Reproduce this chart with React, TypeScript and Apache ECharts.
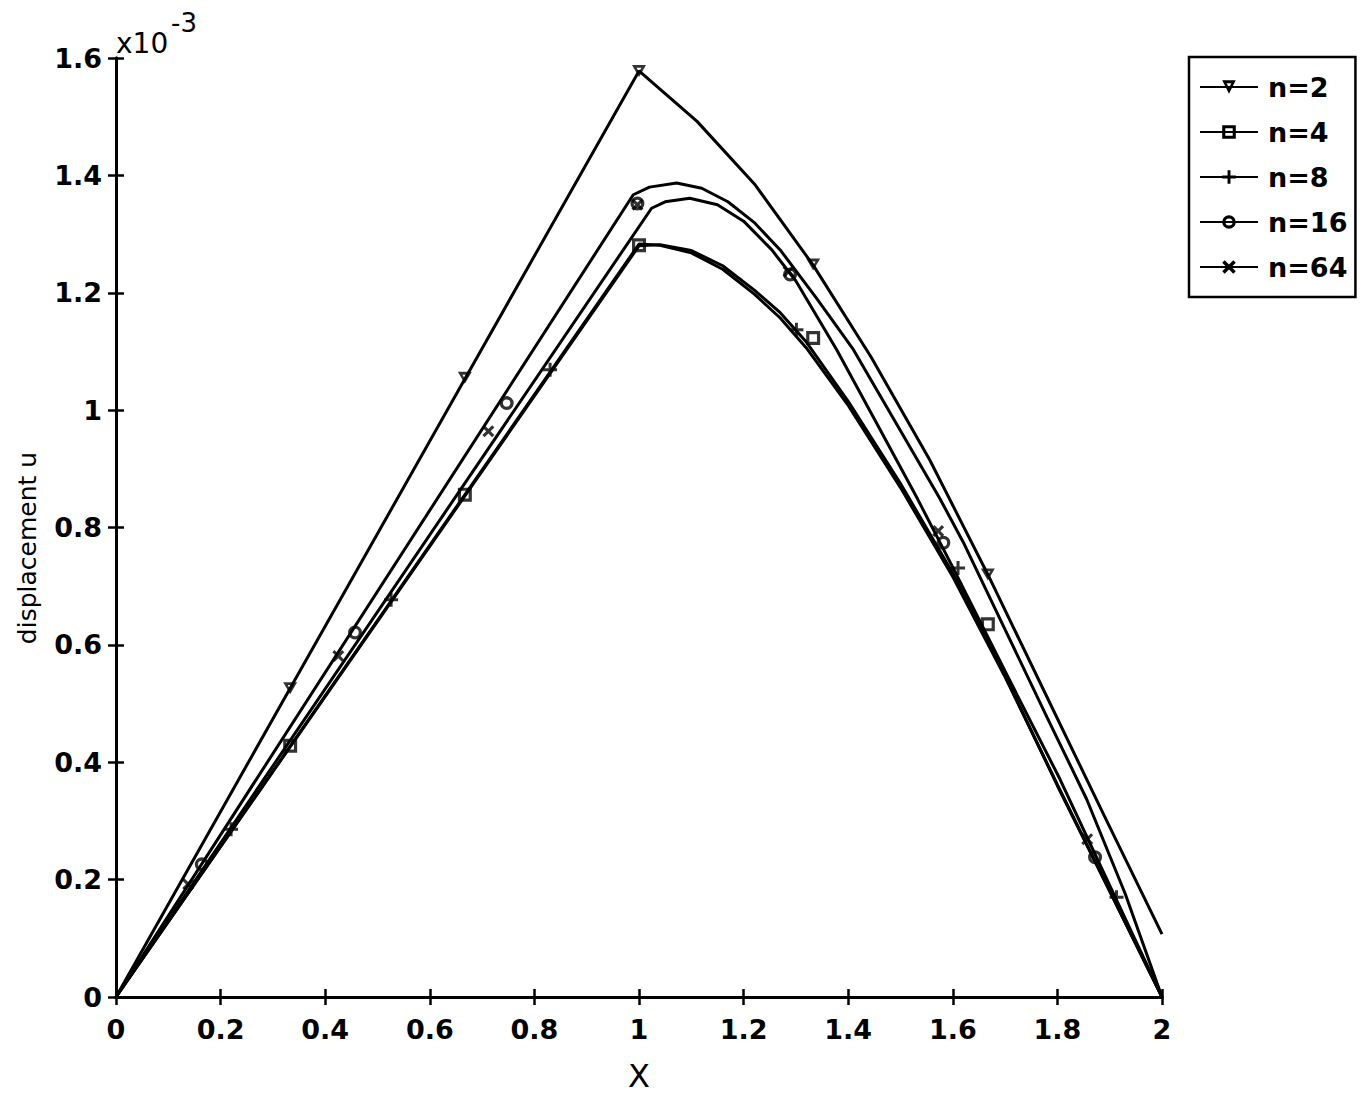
import React, { useEffect, useRef } from "react";
import * as echarts from "echarts";

// ---- data (displacement in units of 1e-3) ----
const seriesNames = ["n=2", "n=4", "n=8", "n=16", "n=64"];

const n2LineX = [0, 0.333, 0.667, 1, 1.111, 1.222, 1.333, 1.444, 1.556, 1.667, 1.778, 1.889, 2];
const n2LineY = [0, 0.526, 1.053, 1.578, 1.492, 1.384, 1.247, 1.09, 0.915, 0.72, 0.515, 0.31, 0.107];
const n2MarkX = [0.333, 0.667, 1, 1.333, 1.667];
const n2MarkY = [0.526, 1.055, 1.578, 1.248, 0.72];

const n4LineX = [0, 1, 1.04, 1.1, 1.16, 1.22, 1.27, 1.32, 1.4, 1.5, 1.6, 1.7, 1.8, 1.9, 2];
const n4LineY = [0, 1.28, 1.282, 1.272, 1.246, 1.205, 1.166, 1.116, 1.015, 0.875, 0.722, 0.548, 0.36, 0.18, 0];
const n4MarkX = [0.333, 0.667, 1, 1.333, 1.667];
const n4MarkY = [0.428, 0.856, 1.281, 1.123, 0.635];

const n8LineX = [0, 1, 1.04, 1.1, 1.16, 1.22, 1.27, 1.32, 1.4, 1.5, 1.6, 1.7, 1.8, 1.9, 2];
const n8LineY = [0, 1.283, 1.281, 1.268, 1.24, 1.198, 1.157, 1.106, 1.008, 0.868, 0.716, 0.545, 0.362, 0.181, 0];
const n8MarkX = [0.22, 0.526, 0.83, 1.301, 1.61, 1.913];
const n8MarkY = [0.286, 0.677, 1.069, 1.137, 0.731, 0.17];

const n16LineX = [0, 0.989, 1.02, 1.072, 1.12, 1.17, 1.22, 1.27, 1.34, 1.41, 1.5, 1.576, 1.62, 1.7, 1.78, 1.856, 1.93, 2];
const n16LineY = [0, 1.367, 1.38, 1.387, 1.378, 1.355, 1.32, 1.273, 1.19, 1.103, 0.965, 0.848, 0.775, 0.626, 0.477, 0.337, 0.175, 0];
const n16MarkX = [0.164, 0.457, 0.747, 0.997, 1.289, 1.582, 1.872];
const n16MarkY = [0.226, 0.621, 1.012, 1.352, 1.231, 0.774, 0.238];

const n64LineX = [0, 1.024, 1.05, 1.097, 1.15, 1.2, 1.254, 1.3, 1.378, 1.45, 1.533, 1.6, 1.7, 1.805, 1.9, 2];
const n64LineY = [0, 1.344, 1.355, 1.361, 1.35, 1.322, 1.273, 1.22, 1.103, 0.985, 0.848, 0.732, 0.555, 0.371, 0.19, 0];
const n64MarkX = [0.138, 0.425, 0.712, 0.997, 1.286, 1.572, 1.857];
const n64MarkY = [0.192, 0.581, 0.964, 1.35, 1.236, 0.794, 0.269];

// ---- styling ----
const FONT = "'DejaVu Sans', Verdana, sans-serif";
const SYM_TRI = "path://M0,0 L14,0 L7,12 Z M4.6,2.8 L7,6.9 L9.4,2.8 Z";
const SYM_SQ = "path://M0,0 H14 V14 H0 Z M3.2,3.2 V10.8 H10.8 V3.2 Z";
const SYM_PLUS = "path://M5.5,0 H8.5 V5.5 H14 V8.5 H8.5 V14 H5.5 V8.5 H0 V5.5 H5.5 Z";
const SYM_CIRC =
  "path://M0,7 A7 7 0 1 1 14 7 A7 7 0 1 1 0 7 Z M3.3,7 A3.7 3.7 0 1 0 10.7 7 A3.7 3.7 0 1 0 3.3 7 Z";
const SYM_X =
  "path://M0,2.2 L2.2,0 L6,3.8 L9.8,0 L12,2.2 L8.2,6 L12,9.8 L9.8,12 L6,8.2 L2.2,12 L0,9.8 L3.8,6 Z";

const zip = (xs: number[], ys: number[]) => xs.map((x, i) => [x, ys[i]]);

const defs = [
  { name: seriesNames[0], lx: n2LineX, ly: n2LineY, mx: n2MarkX, my: n2MarkY, symbol: SYM_TRI, size: [14, 12] },
  { name: seriesNames[1], lx: n4LineX, ly: n4LineY, mx: n4MarkX, my: n4MarkY, symbol: SYM_SQ, size: 14 },
  { name: seriesNames[2], lx: n8LineX, ly: n8LineY, mx: n8MarkX, my: n8MarkY, symbol: SYM_PLUS, size: 14 },
  { name: seriesNames[3], lx: n16LineX, ly: n16LineY, mx: n16MarkX, my: n16MarkY, symbol: SYM_CIRC, size: 14 },
  { name: seriesNames[4], lx: n64LineX, ly: n64LineY, mx: n64MarkX, my: n64MarkY, symbol: SYM_X, size: 12 },
];

export default function App() {
  const ref = useRef<HTMLDivElement>(null);
  useEffect(() => {
    const chart = echarts.init(ref.current!, null, { renderer: "svg" });
    const axisLine = { show: true, lineStyle: { color: "#000", width: 3 } };
    const axisTick = { show: true, inside: true, length: 8, lineStyle: { color: "#000", width: 2.5 } };
    const label = { color: "#000", fontSize: 27, fontWeight: "bold", fontFamily: FONT };

    const lineSeries = defs.map((d) => ({
      name: d.name,
      type: "line",
      data: zip(d.lx, d.ly),
      symbol: d.symbol,
      symbolSize: d.size,
      showSymbol: false,
      smooth: false,
      lineStyle: { color: "#000", width: 3 },
      itemStyle: { color: "#000" },
      emphasis: { disabled: true },
      z: 2,
    }));
    const markSeries = defs.map((d) => ({
      name: d.name,
      type: "scatter",
      data: zip(d.mx, d.my),
      symbol: d.symbol,
      symbolSize: d.size,
      itemStyle: { color: "#000" },
      emphasis: { disabled: true },
      z: 3,
    }));

    chart.setOption({
      animation: false,
      backgroundColor: "#fff",
      grid: { left: 116, right: 198, top: 58, bottom: 99 },
      xAxis: [
        {
          type: "value",
          min: 0,
          max: 2,
          interval: 0.2,
          position: "bottom",
          axisLine,
          axisTick,
          splitLine: { show: false },
          axisLabel: { ...label, margin: 19 },
          name: "X",
          nameLocation: "middle",
          nameGap: 63,
          nameTextStyle: { color: "#000", fontSize: 32, fontFamily: FONT },
        },
        {
          type: "value",
          min: 0,
          max: 2,
          interval: 0.2,
          position: "top",
          axisLine,
          axisTick,
          splitLine: { show: false },
          axisLabel: { show: false },
        },
      ],
      yAxis: [
        {
          type: "value",
          min: 0,
          max: 1.6,
          interval: 0.2,
          position: "left",
          axisLine,
          axisTick,
          splitLine: { show: false },
          axisLabel: { ...label, margin: 14 },
        },
        {
          type: "value",
          min: 0,
          max: 1.6,
          interval: 0.2,
          position: "right",
          axisLine,
          axisTick,
          splitLine: { show: false },
          axisLabel: { show: false },
        },
      ],
      legend: {
        data: seriesNames,
        orient: "vertical",
        left: 1189,
        top: 57,
        padding: [15, 8, 15, 10],
        itemWidth: 58,
        itemHeight: 17,
        itemGap: 15,
        selectedMode: false,
        borderColor: "#000",
        borderWidth: 2.5,
        backgroundColor: "#fff",
        textStyle: {
          color: "#000",
          fontSize: 27,
          fontWeight: "bold",
          fontFamily: FONT,
          lineHeight: 30,
          padding: [0, 0, 0, 5],
        },
      },
      graphic: [
        {
          type: "text",
          x: 116,
          y: 43,
          style: {
            text: "x10",
            font: `28px ${FONT}`,
            fill: "#000",
            textAlign: "left",
            textVerticalAlign: "middle",
          },
        },
        {
          type: "text",
          x: 171,
          y: 23,
          style: {
            text: "-3",
            font: `26px ${FONT}`,
            fill: "#000",
            textAlign: "left",
            textVerticalAlign: "middle",
          },
        },
        {
          type: "text",
          x: 27,
          y: 548,
          rotation: Math.PI / 2,
          style: {
            text: "displacement u",
            font: `25px ${FONT}`,
            fill: "#000",
            textAlign: "center",
            textVerticalAlign: "middle",
          },
        },
      ],
      series: [...lineSeries, ...markSeries],
    });
    return () => chart.dispose();
  }, []);
  return (
    <div
      ref={ref}
      style={{ position: "absolute", left: 0, top: 0, width: 1360, height: 1097, background: "#fff" }}
    />
  );
}
